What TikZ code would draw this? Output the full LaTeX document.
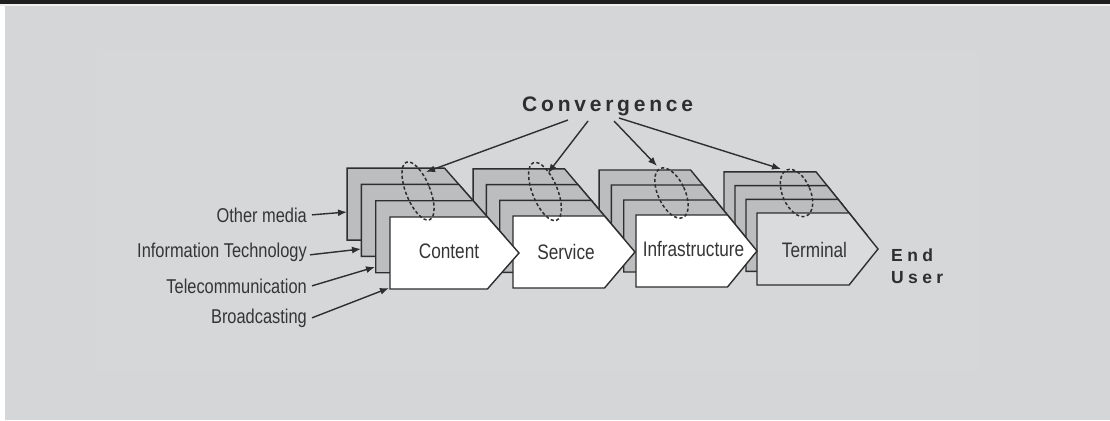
\documentclass[tikz,border=0pt]{standalone}
\usepackage{fontspec}
\setmainfont{Liberation Sans}
\newfontfamily\narrowfont[FakeStretch=0.82]{Liberation Sans}
\newfontfamily\headfont[LetterSpace=18]{Liberation Sans}
\newfontfamily\endfont[LetterSpace=25]{Liberation Sans}
\usetikzlibrary{arrows.meta}

\definecolor{pagebg}{HTML}{D5D6D8}
\definecolor{panelbg}{HTML}{D6D7D9}
\definecolor{layergray}{HTML}{BCBDBF}
\definecolor{termfill}{HTML}{DADBDD}
\definecolor{ink}{HTML}{2E2E2E}
\definecolor{txt}{HTML}{353535}

\tikzset{
  platedraw/.style={draw=ink, line width=1.4pt, line join=miter},
  arr/.style={draw=ink, line width=1.4pt, -{Latex[length=9pt,width=7pt]}},
  ring/.style={draw=ink, line width=1.5pt, dash pattern=on 3.2pt off 2.3pt},
  boxlabel/.style={font=\narrowfont\fontsize{21}{24}\selectfont, text=txt, inner sep=0pt, anchor=base},
  sidelabel/.style={font=\narrowfont\fontsize{20}{24}\selectfont, text=txt, inner sep=0pt, anchor=base east},
  headline/.style={font=\headfont\bfseries\fontsize{21}{24}\selectfont, text=ink, inner sep=0pt},
  endline/.style={font=\endfont\bfseries\fontsize{17.5}{22}\selectfont, text=ink, inner sep=0pt},
}

% one pentagon plate: left x, top y, full width, tip depth, fill
\newcommand\plate[5]{%
  \path[platedraw, fill=#5] ({#1},{#2}) -- ({#1+#3-#4},{#2}) -- ({#1+#3},{#2+36})
    -- ({#1+#3-#4},{#2+72}) -- ({#1},{#2+72}) -- cycle;}

% three grey plates behind a front plate: front left, front top, width, step x, step y, front fill
\newcommand\layerstack[6]{%
  \pgfmathsetmacro\tipdx{36*#4/#5}%
  \foreach \k in {3,2,1}{\plate{#1-\k*#4}{#2-\k*#5}{#3}{\tipdx}{layergray}}%
  \plate{#1}{#2}{#3}{\tipdx}{#6}}

\begin{document}
\begin{tikzpicture}[x=1pt, y=-1pt]
  % page
  \fill[pagebg] (0,0) rectangle (1110,420);
  \fill[panelbg] (97,50) rectangle (978,372);
  \fill[white] (0,0) rectangle (5,420);
  \fill[white!94!black] (0,4) rectangle (1110,6.5);
  \fill[black!88] (0,0) rectangle (1110,4);
  \useasboundingbox (0,0) rectangle (1110,420);

  % value-chain stacks, drawn right to left so each front plate overlaps its right neighbour
  \layerstack{757}{213}{121}{11}{13.7}{termfill}
  \layerstack{636}{215}{121}{12.3}{15}{white}
  \layerstack{513}{216}{122}{13.3}{15.7}{white}
  \layerstack{390}{217}{129}{14.3}{16.3}{white}

  % stage names
  \node[boxlabel] (content)  at (449,258)   {Content};
  \node[boxlabel] (service)  at (566,259)   {Service};
  \node[boxlabel] (infra)    at (693.5,256) {Infrastructure};
  \node[boxlabel] (terminal) at (814.5,257) {Terminal};

  % dashed rings around the stacked layers
  \draw[ring, shift={(418,191)},   rotate=22] (0,0) ellipse [x radius=12,   y radius=31];
  \draw[ring, shift={(545,191.5)}, rotate=22] (0,0) ellipse [x radius=12.5, y radius=31];
  \draw[ring, shift={(671.5,193)}, rotate=25] (0,0) ellipse [x radius=13.5, y radius=27];
  \draw[ring, shift={(796.5,193)}, rotate=23] (0,0) ellipse [x radius=14,   y radius=25];

  % heading and end point
  \node[headline, anchor=base west] (conv) at (522,111) {Convergence};
  \node[endline, anchor=north west, align=left] (enduser) at (891,248.5) {End\\User};

  % arrows from the heading to each ring
  \coordinate (cv1) at (568,120);
  \coordinate (cv2) at (588,121);
  \coordinate (cv3) at (614,121);
  \coordinate (cv4) at (619,118);
  \coordinate (r1) at (426,172);
  \coordinate (r2) at (548,173);
  \coordinate (r3) at (657,166);
  \coordinate (r4) at (781,169);
  \draw[arr] (cv1) -- (r1);
  \draw[arr] (cv2) -- (r2);
  \draw[arr] (cv3) -- (r3);
  \draw[arr] (cv4) -- (r4);

  % sector labels pointing at their layers
  \node[sidelabel] (om) at (307,222) {Other media};
  \node[sidelabel] (it) at (307,257) {Information Technology};
  \node[sidelabel] (tc) at (307,293) {Telecommunication};
  \node[sidelabel] (bc) at (307,323) {Broadcasting};
  \coordinate (l1) at (347,212);
  \coordinate (l2) at (361,249);
  \coordinate (l3) at (375,267);
  \coordinate (l4) at (389,288);
  \draw[arr] ([xshift=5pt]om.east) -- (l1);
  \draw[arr] ([xshift=3pt,yshift=-3pt]it.east) -- (l2);
  \draw[arr] ([xshift=5pt]tc.east) -- (l3);
  \draw[arr] ([xshift=5pt]bc.east) -- (l4);
\end{tikzpicture}
\end{document}
